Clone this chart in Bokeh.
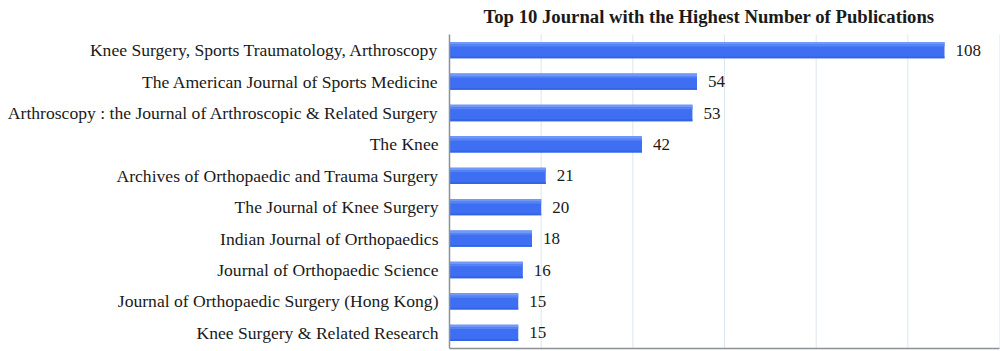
from bokeh.plotting import figure
from bokeh.models import ColumnDataSource, FixedTicker, Label, Range1d
from bokeh.transform import dodge
from bokeh.embed import file_html
from bokeh.resources import INLINE

journals = [
    "Knee Surgery, Sports Traumatology, Arthroscopy",
    "The American Journal of Sports Medicine",
    "Arthroscopy : the Journal of Arthroscopic & Related Surgery",
    "The Knee",
    "Archives of Orthopaedic and Trauma Surgery",
    "The Journal of Knee Surgery",
    "Indian Journal of Orthopaedics",
    "Journal of Orthopaedic Science",
    "Journal of Orthopaedic Surgery (Hong Kong)",
    "Knee Surgery & Related Research",
]
publications = [108, 54, 53, 42, 21, 20, 18, 16, 15, 15]
grid_ticks = [20, 40, 60, 80, 100, 120]
title_text = "Top 10 Journal with the Highest Number of Publications"

# layout constants (pixels)
FRAME_LEFT, FRAME_W, FRAME_H, CAT_PX = 449, 550, 348, 31.4
X_MAX = 120

n = len(journals)
ypos = [n - 1 - i for i in range(n)]  # first journal on top
src = ColumnDataSource(dict(y=ypos, n=publications, lbl=[str(v) for v in publications]))

y_top = -0.5 + FRAME_H / CAT_PX
p = figure(width=1000, height=351, x_range=Range1d(0, X_MAX), y_range=Range1d(-0.5, y_top),
           output_backend="svg", toolbar_location=None,
           min_border_left=FRAME_LEFT, min_border_right=1, min_border_top=0, min_border_bottom=3)
p.title.visible = False
p.outline_line_color = None
p.background_fill_color = "white"
p.xgrid.grid_line_color = None
p.ygrid.grid_line_color = None

# vertical gridlines limited to the category area
p.segment(x0=grid_ticks, y0=[-0.5] * len(grid_ticks), x1=grid_ticks, y1=[n - 0.5] * len(grid_ticks),
          line_color="#dde6ee", line_width=1)

# bars with a soft vertical gradient (strips)
H = 0.52
p.hbar(y="y", right="n", left=0, height=H, source=src, fill_color="#3e6ef2", line_color=None)
p.hbar(y=dodge("y", H / 2 - 0.04), right="n", left=0, height=0.08, source=src,
       fill_color="#7299f7", line_color=None)
p.hbar(y=dodge("y", H / 2 - 0.11), right="n", left=0, height=0.06, source=src,
       fill_color="#5783f5", line_color=None)
p.hbar(y=dodge("y", -H / 2 + 0.03), right="n", left=0, height=0.06, source=src,
       fill_color="#3463e6", line_color=None)

p.text(x="n", y="y", text="lbl", source=src, x_offset=11, text_baseline="middle",
       text_font="Liberation Serif", text_font_size="17px", text_color="#1a1a1a")

title = Label(x=(483 - FRAME_LEFT) / FRAME_W * X_MAX, y=-0.5 + (FRAME_H - 16) / CAT_PX,
              text=title_text, text_font="Liberation Serif", text_font_size="18.7px",
              text_font_style="bold", text_color="#1a1a1a",
              text_baseline="alphabetic", text_align="left")
p.add_layout(title)

p.xaxis.ticker = FixedTicker(ticks=[])
p.xaxis.major_label_standoff = 0
p.xaxis.major_tick_line_color = None
p.xaxis.minor_tick_line_color = None
p.xaxis.axis_line_color = "#8c9196"
p.xaxis.axis_line_width = 1.5

p.yaxis.ticker = FixedTicker(ticks=ypos)
p.yaxis.major_label_overrides = {yy: name for yy, name in zip(ypos, journals)}
p.yaxis.bounds = (-0.5, n - 0.5)
p.yaxis.axis_line_color = "#8c9196"
p.yaxis.axis_line_width = 1.5
p.yaxis.major_tick_line_color = None
p.yaxis.minor_tick_line_color = None
p.yaxis.major_label_standoff = 5
p.yaxis.major_label_text_font = "Liberation Serif"
p.yaxis.major_label_text_font_size = "17.6px"
p.yaxis.major_label_text_color = "#1a1a1a"

open("out.html", "w").write(file_html(p, INLINE))
